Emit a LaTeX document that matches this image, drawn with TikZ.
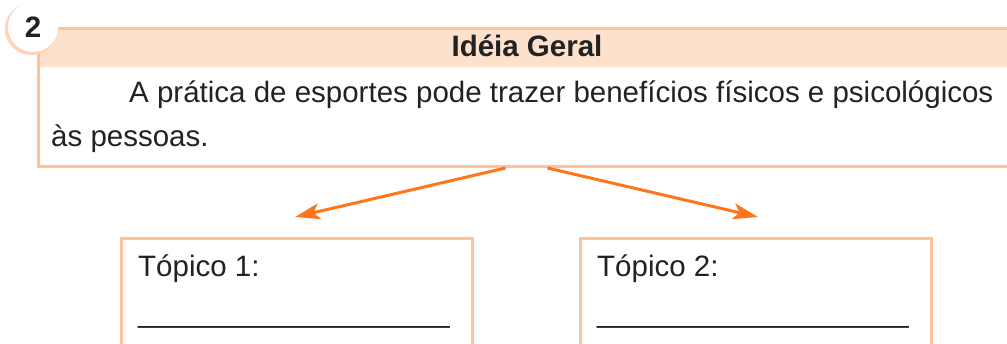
\documentclass[tikz,border=0pt]{standalone}
\usepackage{fontspec}
\setmainfont{Liberation Sans}
\usetikzlibrary{arrows.meta}
\definecolor{bandfill}{HTML}{FEE1CC}
\definecolor{lineorange}{HTML}{FFC39C}
\definecolor{shadeorange}{HTML}{FFD2B4}
\definecolor{arroworange}{HTML}{FF761A}
\definecolor{inkgray}{HTML}{222222}

\begin{document}
\begin{tikzpicture}[x=1pt,y=-1pt,font=\fontsize{29.5}{35}\selectfont,text=inkgray,
	ideabox/.style={draw=lineorange,line width=3pt,shape=rectangle,anchor=north west,inner sep=0pt,minimum width=1000pt,minimum height=138pt},
	band/.style={fill=bandfill,shape=rectangle,anchor=north west,inner sep=0pt,minimum width=1000pt,minimum height=40pt},
	topicbox/.style={draw=lineorange,line width=3pt,shape=rectangle,anchor=north west,inner sep=0pt,minimum width=351pt,minimum height=150pt},
	label/.style={anchor=base west,inner sep=0pt},
	link/.style={draw=arroworange,line width=3pt,-{Stealth[length=25pt,width=16pt,inset=6pt]}}]
		\useasboundingbox (0,0) rectangle (1007,344);
		\clip (0,0) rectangle (1007,344);
		%%%
		\node[band] (head) at (37,27) {};
		\node[ideabox] (idea) at (37,27) {};
		\node[circle,fill=shadeorange,minimum size=52pt,inner sep=0pt] (numshade) at (31,29) {};
		\node[circle,fill=white,minimum size=50pt,inner sep=0pt] (num) at (33,27) {\bfseries 2};
		\node[anchor=base,inner sep=0pt] (title) at (527,57) {\bfseries Idéia Geral};
		\node[label] (lineA) at (129,103) {A prática de esportes pode trazer benefícios físicos e psicológicos};
		\node[label] (lineB) at (51,147) {às pessoas.};
		%%%
		\node[topicbox] (topA) at (120,237) {};
		\node[topicbox] (topB) at (579,237) {};
		\node[label] (topAtext) at (138,277) {Tópico 1:};
		\node[label] (topBtext) at (597,277) {Tópico 2:};
		\node[label] (topAline) at (138,323) {\_\_\_\_\_\_\_\_\_\_\_\_\_\_\_\_\_\_\_};
		\node[label] (topBline) at (597,323) {\_\_\_\_\_\_\_\_\_\_\_\_\_\_\_\_\_\_\_};
		%%%
		\draw[link] ([xshift=-33pt]idea.south) -- ([yshift=20pt,xshift=-2pt]topA.north);
		\draw[link] ([xshift=9pt]idea.south) -- ([yshift=20pt,xshift=2pt]topB.north);
	\end{tikzpicture}
\end{document}
